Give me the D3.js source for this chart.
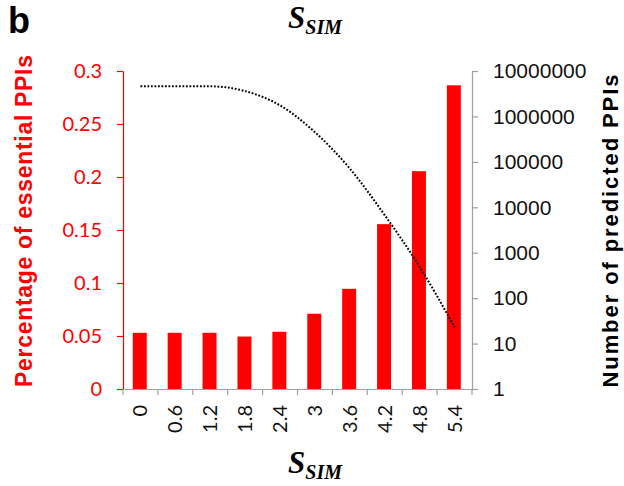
<!DOCTYPE html>
<html>
<head>
<meta charset="utf-8">
<script src="https://cdn.jsdelivr.net/npm/d3@7"></script>
<style>
  body { margin: 0; background: #fff; }
  svg { display: block; }
</style>
</head>
<body>
<div id="chart-area"></div>
<script>
// values
let categories = ["0", "0.6", "1.2", "1.8", "2.4", "3", "3.6", "4.2", "4.8", "5.4"];
let essentialPct = [0.053, 0.053, 0.053, 0.0495, 0.054, 0.071, 0.0945, 0.1555, 0.2055, 0.2865];
let predictedPPIs = [4600000, 4600000, 4600000, 3600000, 1750000, 450000, 71000, 6700, 490, 23];
let leftTicks = [0, 0.05, 0.1, 0.15, 0.2, 0.25, 0.3];
let rightTicks = [1, 10, 100, 1000, 10000, 100000, 1000000, 10000000];

let width = 624, height = 486;
let margin = {top: 71, right: 152, bottom: 97, left: 123};

let svg = d3.select("#chart-area").append("svg").attr("width", width).attr("height", height);

let xb = d3.scaleBand().domain(categories).range([margin.left, width - margin.right]);
let yL = d3.scaleLinear().domain([0, 0.3]).range([height - margin.bottom, margin.top]);
let yR = d3.scaleLog().domain([1, 10000000]).range([height - margin.bottom, margin.top]);

let labelFont = "Lato, 'Open Sans', sans-serif";
let arial = "'Liberation Sans', Arial, sans-serif";

// bars
svg.selectAll("rect.bar").data(essentialPct)
  .enter().append("rect")
    .attr("class", "bar")
    .attr("x", (d, i) => xb(categories[i]) + xb.bandwidth() * 0.28)
    .attr("width", xb.bandwidth() * 0.4)
    .attr("y", d => yL(d))
    .attr("height", d => yL(0) - yL(d))
    .attr("fill", "#ff0000");

// dotted line on log axis
let line = d3.line()
  .x((d, i) => xb(categories[i]) + xb.bandwidth() / 2)
  .y(d => yR(d))
  .curve(d3.curveMonotoneX);

svg.append("path")
  .datum(predictedPPIs)
  .attr("d", line)
  .attr("fill", "none")
  .attr("stroke", "#000")
  .attr("stroke-width", 2)
  .attr("stroke-dasharray", "1.8,1.7");

// left axis
let leftAxis = svg.append("g")
  .attr("transform", `translate(${margin.left},0)`)
  .call(d3.axisLeft(yL).tickValues(leftTicks).tickFormat(d => d).tickSizeInner(6).tickSizeOuter(0).tickPadding(15));
leftAxis.select(".domain").attr("stroke", "#ff0000").attr("stroke-width", 1.2);
leftAxis.selectAll(".tick line").attr("stroke", "#ff0000").attr("stroke-width", 1.2);
leftAxis.selectAll(".tick text").attr("fill", "#ff0000").style("font-family", labelFont).style("font-size", "20px");

// right axis
let rightAxis = svg.append("g")
  .attr("transform", `translate(${width - margin.right},0)`)
  .call(d3.axisRight(yR).tickValues(rightTicks).tickFormat(d3.format("d")).tickSizeInner(6).tickSizeOuter(0).tickPadding(15));
rightAxis.select(".domain").attr("stroke", "#a0a0a0").attr("stroke-width", 1.2);
rightAxis.selectAll(".tick line").attr("stroke", "#a0a0a0").attr("stroke-width", 1.2);
rightAxis.selectAll(".tick text").attr("fill", "#111").style("font-family", arial).style("font-size", "21px");

// x axis
let xAxis = svg.append("g")
  .attr("transform", `translate(0,${height - margin.bottom})`)
  .call(d3.axisBottom(xb).tickSize(0));
xAxis.select(".domain").attr("stroke", "#a0a0a0").attr("stroke-width", 1.2);
xAxis.selectAll(".tick text")
  .attr("transform", "rotate(-90)")
  .attr("x", -16).attr("y", 0).attr("dy", "0.35em")
  .attr("text-anchor", "end")
  .attr("fill", "#111")
  .style("font-family", labelFont).style("font-size", "20px");
// ticks on band edges
let edges = categories.map(c => xb(c)).concat([xb.range()[1]]);
xAxis.selectAll("line.edge").data(edges)
  .enter().append("line")
    .attr("class", "edge")
    .attr("x1", d => d).attr("x2", d => d)
    .attr("y1", 0).attr("y2", 6)
    .attr("stroke", "#a0a0a0").attr("stroke-width", 1.2);

// axis titles
svg.append("text")
  .attr("transform", "translate(32,221) rotate(-90)")
  .attr("text-anchor", "middle")
  .attr("fill", "#ff0000")
  .attr("textLength", 332).attr("lengthAdjust", "spacing")
  .style("font-family", arial).style("font-weight", "bold").style("font-size", "23px")
  .text("Percentage of essential PPIs");

svg.append("text")
  .attr("transform", "translate(618,231) rotate(-90)")
  .attr("text-anchor", "middle")
  .attr("fill", "#000")
  .attr("textLength", 313).attr("lengthAdjust", "spacing")
  .style("font-family", arial).style("font-weight", "bold").style("font-size", "22px")
  .text("Number of predicted PPIs");

// S_SIM labels (top and bottom)
function ssim(cx, cy) {
  let t = svg.append("text")
    .attr("x", cx).attr("y", cy)
    .attr("text-anchor", "middle")
    .style("font-family", "'Liberation Serif', serif").style("font-style", "italic").style("font-weight", "bold")
    .style("font-size", "31px").attr("fill", "#000");
  t.append("tspan").text("S");
  t.append("tspan").attr("dy", 6).style("font-size", "20px").text("SIM");
}
ssim(315, 28);
ssim(315, 473);

// panel letter
svg.append("text")
  .attr("x", 8).attr("y", 33)
  .style("font-family", arial).style("font-weight", "bold").style("font-size", "36px")
  .text("b");
</script>
</body>
</html>
